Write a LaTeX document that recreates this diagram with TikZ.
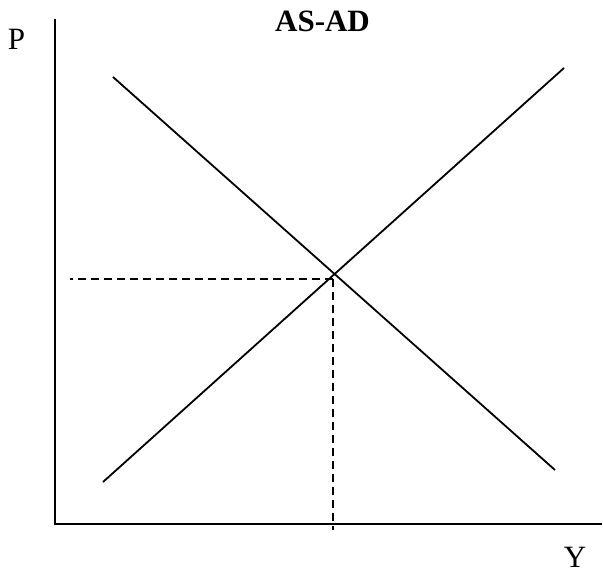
\documentclass[tikz,border=0pt]{standalone}
\usepackage{fontspec}
\setmainfont{Liberation Serif}
\begin{document}
\begin{tikzpicture}[x=1pt,y=-1pt,
  curve/.style={line width=1.8pt},
  axis/.style={line width=1.9pt},
  guide/.style={line width=1.5pt,dash pattern=on 8pt off 5pt},
  lbl/.style={font=\fontsize{31}{36}\selectfont,inner sep=0pt}]
\useasboundingbox (0,0) rectangle (603,573);
% axes
\coordinate (top) at (55,19);
\coordinate (origin) at (55,524);
\coordinate (right) at (602,524);
\draw[axis] (top) -- (origin) -- (right);
% curves
\coordinate (adA) at (113,77);
\coordinate (adB) at (555,470);
\coordinate (asA) at (103,482);
\coordinate (asB) at (564,68);
\draw[curve] (adA) -- (adB);
\draw[curve] (asA) -- (asB);
% equilibrium guides
\coordinate (eq) at (333,279);
\coordinate (pend) at (70,279);
\coordinate (yend) at (333,530);
\draw[guide] (eq) -- (pend);
\draw[guide] (eq) -- (yend);
% labels
\node[lbl] (P) at (16.5,39) {P};
\node[lbl] (Y) at (575,557) {Y};
\node[lbl,font=\fontsize{31}{36}\selectfont\bfseries] (title) at (322.5,21) {AS-AD};
\end{tikzpicture}
\end{document}
